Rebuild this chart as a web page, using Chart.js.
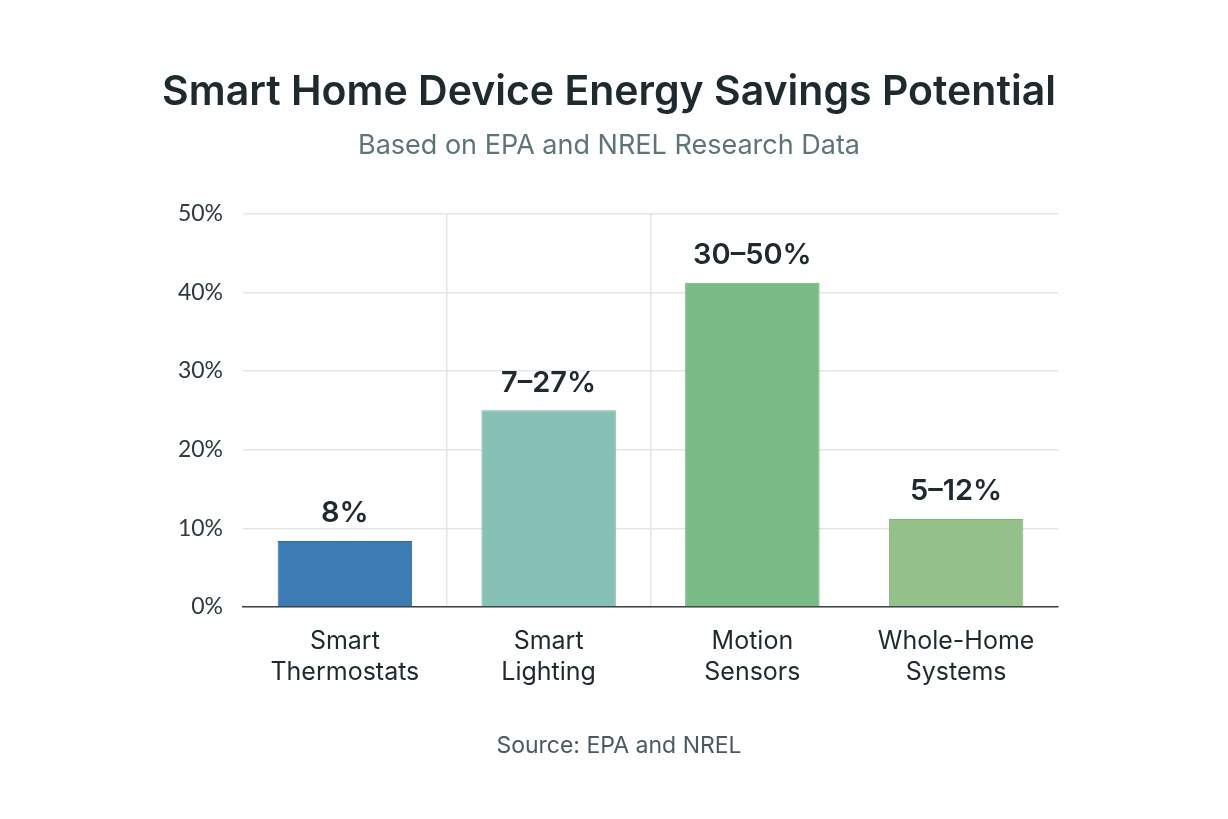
<!DOCTYPE html>
<html>
<head>
<meta charset="utf-8">
<title>Smart Home Device Energy Savings Potential</title>
<script src="https://cdn.jsdelivr.net/npm/chart.js@4.4.0/dist/chart.umd.min.js"></script>
<style>
  html, body { margin: 0; padding: 0; background: #fff; }
  #wrap { width: 1228px; height: 819px; }
</style>
</head>
<body>
<div id="wrap"><canvas id="grafico"></canvas></div>
<script>
// data
const categories = [['Smart', 'Thermostats'], ['Smart', 'Lighting'], ['Motion', 'Sensors'], ['Whole-Home', 'Systems']];
const savings = [8.4, 25, 41.2, 11.2];
const rangeLabels = ['8%', '7\u201327%', '30\u201350%', '5\u201312%'];
const barColors = ['#3d7bb4', '#87c0b4', '#7aba86', '#94c08a'];
const barBorders = ['#2f6aa3', '#74b3a5', '#68ad74', '#82b477'];
const yTicks = [0, 10, 20, 30, 40, 50];

// labels over the bars + source line
const labelPlugin = {
    id: 'barLabels',
    afterDatasetsDraw(chart) {
        const ctx = chart.ctx;
        const meta = chart.getDatasetMeta(0);
        ctx.save();
        ctx.font = '600 29px Inter, "Noto Sans", sans-serif';
        ctx.fillStyle = '#1f2a2e';
        ctx.textAlign = 'center';
        ctx.textBaseline = 'bottom';
        meta.data.forEach((bar, i) => {
            ctx.fillText(rangeLabels[i], bar.x, bar.y - 13);
        });
        ctx.font = '23px Inter, "Noto Sans", sans-serif';
        ctx.fillStyle = '#4a5a60';
        ctx.textBaseline = 'middle';
        ctx.fillText('Source: EPA and NREL', chart.width / 2 + 5, 746);
        ctx.restore();
    }
};

const ctx = document.getElementById('grafico').getContext('2d');
const grafico = new Chart(ctx, {
    type: 'bar',
    data: {
        labels: categories,
        datasets: [{
            data: savings,
            backgroundColor: barColors,
            borderColor: barBorders,
            borderWidth: 1,
            barPercentage: 0.66,
            categoryPercentage: 1
        }]
    },
    options: {
        responsive: true,
        maintainAspectRatio: false,
        animation: false,
        layout: {
            padding: { top: 48, left: 160, right: 170, bottom: 112 }
        },
        plugins: {
            legend: { display: false },
            tooltip: { enabled: false },
            title: {
                display: true,
                text: 'Smart Home Device Energy Savings Potential',
                color: '#1e2a2e',
                font: { family: 'Inter, "Noto Sans", sans-serif', size: 41, weight: '600', lineHeight: 1.2 },
                padding: { top: 20, bottom: 12 }
            },
            subtitle: {
                display: true,
                text: 'Based on EPA and NREL Research Data',
                color: '#5f7479',
                font: { family: 'Inter, "Noto Sans", sans-serif', size: 27, lineHeight: 1.2 },
                padding: { top: 0, bottom: 52 }
            }
        },
        scales: {
            x: {
                grid: {
                    color: (c) => (c.index === 1 || c.index === 2) ? '#e3e5e6' : 'rgba(0,0,0,0)',
                    lineWidth: 1.5,
                    drawTicks: false
                },
                border: { display: true, color: '#3a4347', width: 1.5 },
                ticks: {
                    color: '#1f2a2e',
                    padding: 19,
                    maxRotation: 0,
                    font: { family: 'Inter, "Noto Sans", sans-serif', size: 25, lineHeight: 1.25 }
                },
                afterFit(scale) { scale.height = 100; }
            },
            y: {
                min: 0,
                max: 50,
                afterBuildTicks(scale) { scale.ticks = yTicks.map(v => ({ value: v })); },
                grid: { color: '#e3e5e6', lineWidth: 1.5, drawTicks: false },
                border: { display: false },
                ticks: {
                    color: '#2d3a3f',
                    padding: 20,
                    font: { family: 'Lato, "Noto Sans", sans-serif', size: 23 },
                    callback: (v) => v + '%'
                },
                afterFit(scale) { scale.width = 83; }
            }
        }
    },
    plugins: [labelPlugin]
});
</script>
</body>
</html>
